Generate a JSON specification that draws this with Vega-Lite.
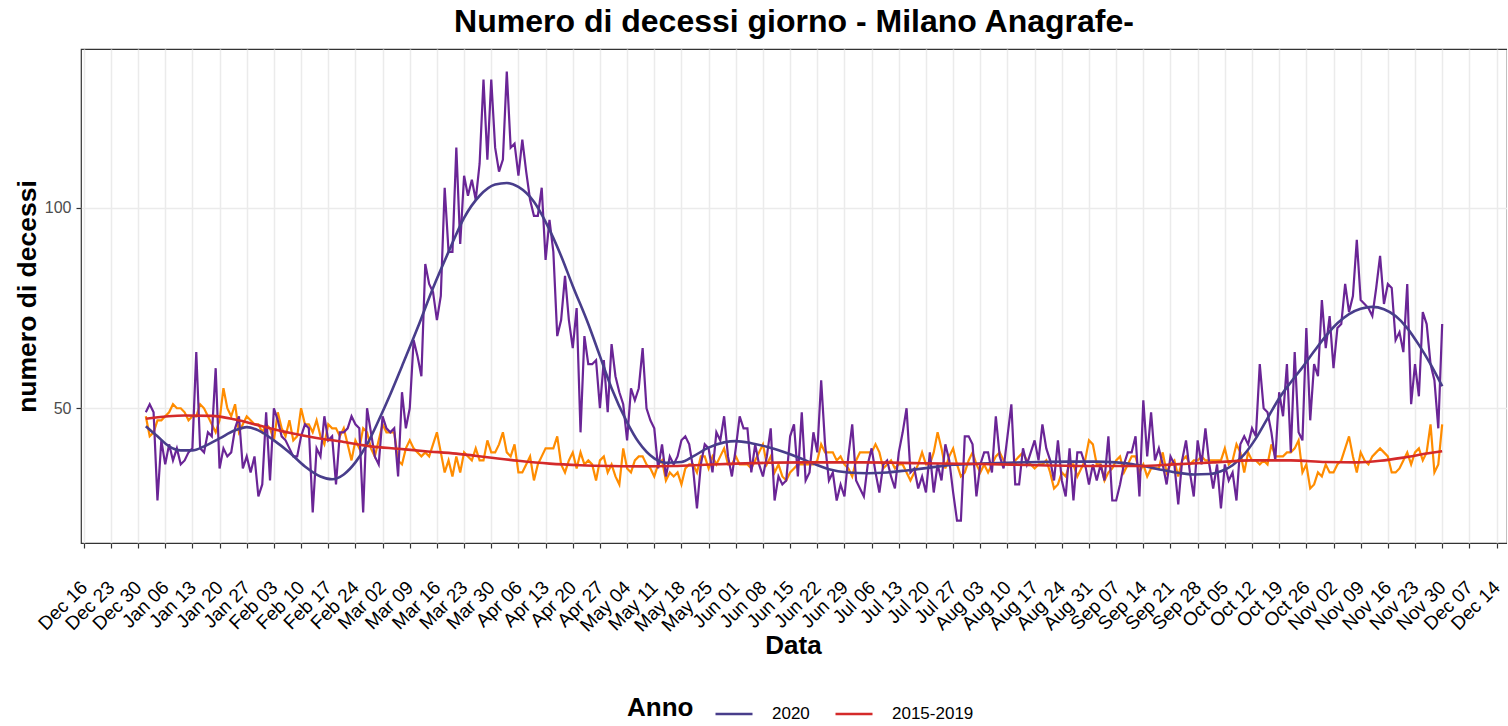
{
"$schema": "https://vega.github.io/schema/vega-lite/v6.json",
"autosize": {"type": "none"},
"padding": {"left": 81, "top": 49, "right": 0, "bottom": 183},
"width": 1426,
"height": 494,
"background": "white",
"config": {"font": "Liberation Sans", "view": {"stroke": "#333333", "strokeWidth": 1.2}},
"title": {"text": "Numero di decessi giorno - Milano Anagrafe-", "fontSize": 32, "fontWeight": "bold", "font": "Liberation Sans", "color": "black", "anchor": "middle", "offset": 14, "baseline": "alphabetic", "dy": 29},
"datasets": {
"daily": [
{"date":"2020-01-01","v2020":49,"v1519":48},{"date":"2020-01-02","v2020":51,"v1519":43},{"date":"2020-01-03","v2020":49,"v1519":44},{"date":"2020-01-04","v2020":27,"v1519":47},{"date":"2020-01-05","v2020":42,"v1519":47},{"date":"2020-01-06","v2020":36,"v1519":48},{"date":"2020-01-07","v2020":41,"v1519":49},{"date":"2020-01-08","v2020":37,"v1519":51},{"date":"2020-01-09","v2020":40,"v1519":50},{"date":"2020-01-10","v2020":36,"v1519":50},
{"date":"2020-01-11","v2020":37,"v1519":49},{"date":"2020-01-12","v2020":39,"v1519":47},{"date":"2020-01-13","v2020":40,"v1519":48},{"date":"2020-01-14","v2020":64,"v1519":48},{"date":"2020-01-15","v2020":40,"v1519":51},{"date":"2020-01-16","v2020":39,"v1519":50},{"date":"2020-01-17","v2020":44,"v1519":48},{"date":"2020-01-18","v2020":43,"v1519":46},{"date":"2020-01-19","v2020":60,"v1519":44},{"date":"2020-01-20","v2020":35,"v1519":47},
{"date":"2020-01-21","v2020":40,"v1519":55},{"date":"2020-01-22","v2020":38,"v1519":50},{"date":"2020-01-23","v2020":39,"v1519":48},{"date":"2020-01-24","v2020":45,"v1519":51},{"date":"2020-01-25","v2020":48,"v1519":44},{"date":"2020-01-26","v2020":35,"v1519":46},{"date":"2020-01-27","v2020":38,"v1519":48},{"date":"2020-01-28","v2020":34,"v1519":47},{"date":"2020-01-29","v2020":38,"v1519":46},{"date":"2020-01-30","v2020":28,"v1519":46},
{"date":"2020-01-31","v2020":31,"v1519":44},{"date":"2020-02-01","v2020":49,"v1519":46},{"date":"2020-02-02","v2020":32,"v1519":45},{"date":"2020-02-03","v2020":50,"v1519":42},{"date":"2020-02-04","v2020":47,"v1519":49},{"date":"2020-02-05","v2020":43,"v1519":45},{"date":"2020-02-06","v2020":42,"v1519":43},{"date":"2020-02-07","v2020":40,"v1519":47},{"date":"2020-02-08","v2020":38,"v1519":42},{"date":"2020-02-09","v2020":38,"v1519":43},
{"date":"2020-02-10","v2020":43,"v1519":50},{"date":"2020-02-11","v2020":46,"v1519":46},{"date":"2020-02-12","v2020":45,"v1519":46},{"date":"2020-02-13","v2020":24,"v1519":44},{"date":"2020-02-14","v2020":40,"v1519":47},{"date":"2020-02-15","v2020":38,"v1519":43},{"date":"2020-02-16","v2020":48,"v1519":41},{"date":"2020-02-17","v2020":42,"v1519":46},{"date":"2020-02-18","v2020":43,"v1519":45},{"date":"2020-02-19","v2020":31,"v1519":45},
{"date":"2020-02-20","v2020":44,"v1519":43},{"date":"2020-02-21","v2020":44,"v1519":45},{"date":"2020-02-22","v2020":45,"v1519":41},{"date":"2020-02-23","v2020":48,"v1519":37},{"date":"2020-02-24","v2020":46,"v1519":42},{"date":"2020-02-25","v2020":45,"v1519":40},{"date":"2020-02-26","v2020":24,"v1519":45},{"date":"2020-02-27","v2020":50,"v1519":44},{"date":"2020-02-28","v2020":44,"v1519":40},{"date":"2020-02-29","v2020":38,"v1519":38},
{"date":"2020-03-01","v2020":36,"v1519":42},{"date":"2020-03-02","v2020":48,"v1519":46},{"date":"2020-03-03","v2020":45,"v1519":44},{"date":"2020-03-04","v2020":44,"v1519":44},{"date":"2020-03-05","v2020":45,"v1519":44},{"date":"2020-03-06","v2020":33,"v1519":37},{"date":"2020-03-07","v2020":54,"v1519":36},{"date":"2020-03-08","v2020":45,"v1519":40},{"date":"2020-03-09","v2020":50,"v1519":42},{"date":"2020-03-10","v2020":67,"v1519":40},
{"date":"2020-03-11","v2020":63,"v1519":39},{"date":"2020-03-12","v2020":58,"v1519":38},{"date":"2020-03-13","v2020":86,"v1519":39},{"date":"2020-03-14","v2020":81,"v1519":38},{"date":"2020-03-15","v2020":79,"v1519":41},{"date":"2020-03-16","v2020":72,"v1519":44},{"date":"2020-03-17","v2020":78,"v1519":39},{"date":"2020-03-18","v2020":105,"v1519":34},{"date":"2020-03-19","v2020":89,"v1519":37},{"date":"2020-03-20","v2020":89,"v1519":33},
{"date":"2020-03-21","v2020":115,"v1519":38},{"date":"2020-03-22","v2020":91,"v1519":34},{"date":"2020-03-23","v2020":108,"v1519":39},{"date":"2020-03-24","v2020":103,"v1519":38},{"date":"2020-03-25","v2020":107,"v1519":37},{"date":"2020-03-26","v2020":102,"v1519":40},{"date":"2020-03-27","v2020":111,"v1519":37},{"date":"2020-03-28","v2020":132,"v1519":37},{"date":"2020-03-29","v2020":112,"v1519":42},{"date":"2020-03-30","v2020":132,"v1519":39},
{"date":"2020-03-31","v2020":115,"v1519":39},{"date":"2020-04-01","v2020":109,"v1519":41},{"date":"2020-04-02","v2020":112,"v1519":44},{"date":"2020-04-03","v2020":134,"v1519":39},{"date":"2020-04-04","v2020":115,"v1519":38},{"date":"2020-04-05","v2020":116,"v1519":41},{"date":"2020-04-06","v2020":108,"v1519":34},{"date":"2020-04-07","v2020":117,"v1519":34},{"date":"2020-04-08","v2020":109,"v1519":36},{"date":"2020-04-09","v2020":102,"v1519":38},
{"date":"2020-04-10","v2020":98,"v1519":32},{"date":"2020-04-11","v2020":98,"v1519":36},{"date":"2020-04-12","v2020":105,"v1519":38},{"date":"2020-04-13","v2020":87,"v1519":40},{"date":"2020-04-14","v2020":97,"v1519":40},{"date":"2020-04-15","v2020":89,"v1519":40},{"date":"2020-04-16","v2020":68,"v1519":43},{"date":"2020-04-17","v2020":72,"v1519":36},{"date":"2020-04-18","v2020":83,"v1519":34},{"date":"2020-04-19","v2020":72,"v1519":37},
{"date":"2020-04-20","v2020":65,"v1519":39},{"date":"2020-04-21","v2020":75,"v1519":35},{"date":"2020-04-22","v2020":44,"v1519":39},{"date":"2020-04-23","v2020":68,"v1519":36},{"date":"2020-04-24","v2020":61,"v1519":37},{"date":"2020-04-25","v2020":61,"v1519":36},{"date":"2020-04-26","v2020":62,"v1519":32},{"date":"2020-04-27","v2020":50,"v1519":37},{"date":"2020-04-28","v2020":62,"v1519":38},{"date":"2020-04-29","v2020":49,"v1519":34},
{"date":"2020-04-30","v2020":66,"v1519":36},{"date":"2020-05-01","v2020":58,"v1519":33},{"date":"2020-05-02","v2020":54,"v1519":31},{"date":"2020-05-03","v2020":51,"v1519":40},{"date":"2020-05-04","v2020":42,"v1519":35},{"date":"2020-05-05","v2020":55,"v1519":34},{"date":"2020-05-06","v2020":52,"v1519":37},{"date":"2020-05-07","v2020":55,"v1519":38},{"date":"2020-05-08","v2020":65,"v1519":38},{"date":"2020-05-09","v2020":50,"v1519":36},
{"date":"2020-05-10","v2020":47,"v1519":35},{"date":"2020-05-11","v2020":45,"v1519":33},{"date":"2020-05-12","v2020":35,"v1519":36},{"date":"2020-05-13","v2020":41,"v1519":37},{"date":"2020-05-14","v2020":33,"v1519":32},{"date":"2020-05-15","v2020":38,"v1519":34},{"date":"2020-05-16","v2020":36,"v1519":33},{"date":"2020-05-17","v2020":38,"v1519":34},{"date":"2020-05-18","v2020":42,"v1519":31},{"date":"2020-05-19","v2020":43,"v1519":35},
{"date":"2020-05-20","v2020":41,"v1519":36},{"date":"2020-05-21","v2020":35,"v1519":36},{"date":"2020-05-22","v2020":25,"v1519":34},{"date":"2020-05-23","v2020":36,"v1519":38},{"date":"2020-05-24","v2020":41,"v1519":38},{"date":"2020-05-25","v2020":40,"v1519":35},{"date":"2020-05-26","v2020":34,"v1519":38},{"date":"2020-05-27","v2020":44,"v1519":36},{"date":"2020-05-28","v2020":42,"v1519":38},{"date":"2020-05-29","v2020":48,"v1519":40},
{"date":"2020-05-30","v2020":38,"v1519":36},{"date":"2020-05-31","v2020":33,"v1519":36},{"date":"2020-06-01","v2020":40,"v1519":38},{"date":"2020-06-02","v2020":48,"v1519":36},{"date":"2020-06-03","v2020":45,"v1519":36},{"date":"2020-06-04","v2020":45,"v1519":36},{"date":"2020-06-05","v2020":34,"v1519":35},{"date":"2020-06-06","v2020":41,"v1519":37},{"date":"2020-06-07","v2020":36,"v1519":39},{"date":"2020-06-08","v2020":33,"v1519":41},
{"date":"2020-06-09","v2020":38,"v1519":36},{"date":"2020-06-10","v2020":45,"v1519":38},{"date":"2020-06-11","v2020":27,"v1519":34},{"date":"2020-06-12","v2020":33,"v1519":36},{"date":"2020-06-13","v2020":31,"v1519":33},{"date":"2020-06-14","v2020":32,"v1519":32},{"date":"2020-06-15","v2020":43,"v1519":34},{"date":"2020-06-16","v2020":46,"v1519":35},{"date":"2020-06-17","v2020":33,"v1519":36},{"date":"2020-06-18","v2020":49,"v1519":36},
{"date":"2020-06-19","v2020":32,"v1519":36},{"date":"2020-06-20","v2020":34,"v1519":36},{"date":"2020-06-21","v2020":44,"v1519":36},{"date":"2020-06-22","v2020":39,"v1519":37},{"date":"2020-06-23","v2020":57,"v1519":41},{"date":"2020-06-24","v2020":41,"v1519":39},{"date":"2020-06-25","v2020":32,"v1519":39},{"date":"2020-06-26","v2020":34,"v1519":39},{"date":"2020-06-27","v2020":27,"v1519":37},{"date":"2020-06-28","v2020":31,"v1519":38},
{"date":"2020-06-29","v2020":28,"v1519":36},{"date":"2020-06-30","v2020":38,"v1519":35},{"date":"2020-07-01","v2020":46,"v1519":33},{"date":"2020-07-02","v2020":32,"v1519":37},{"date":"2020-07-03","v2020":30,"v1519":39},{"date":"2020-07-04","v2020":28,"v1519":39},{"date":"2020-07-05","v2020":36,"v1519":39},{"date":"2020-07-06","v2020":40,"v1519":39},{"date":"2020-07-07","v2020":34,"v1519":41},{"date":"2020-07-08","v2020":29,"v1519":39},
{"date":"2020-07-09","v2020":36,"v1519":35},{"date":"2020-07-10","v2020":37,"v1519":36},{"date":"2020-07-11","v2020":33,"v1519":37},{"date":"2020-07-12","v2020":30,"v1519":35},{"date":"2020-07-13","v2020":39,"v1519":36},{"date":"2020-07-14","v2020":44,"v1519":36},{"date":"2020-07-15","v2020":50,"v1519":34},{"date":"2020-07-16","v2020":34,"v1519":32},{"date":"2020-07-17","v2020":35,"v1519":34},{"date":"2020-07-18","v2020":30,"v1519":36},
{"date":"2020-07-19","v2020":33,"v1519":39},{"date":"2020-07-20","v2020":29,"v1519":36},{"date":"2020-07-21","v2020":39,"v1519":36},{"date":"2020-07-22","v2020":29,"v1519":39},{"date":"2020-07-23","v2020":36,"v1519":44},{"date":"2020-07-24","v2020":32,"v1519":40},{"date":"2020-07-25","v2020":41,"v1519":35},{"date":"2020-07-26","v2020":37,"v1519":38},{"date":"2020-07-27","v2020":29,"v1519":40},{"date":"2020-07-28","v2020":22,"v1519":36},
{"date":"2020-07-29","v2020":22,"v1519":33},{"date":"2020-07-30","v2020":43,"v1519":34},{"date":"2020-07-31","v2020":43,"v1519":37},{"date":"2020-08-01","v2020":41,"v1519":39},{"date":"2020-08-02","v2020":28,"v1519":36},{"date":"2020-08-03","v2020":36,"v1519":34},{"date":"2020-08-04","v2020":39,"v1519":36},{"date":"2020-08-05","v2020":39,"v1519":34},{"date":"2020-08-06","v2020":34,"v1519":36},{"date":"2020-08-07","v2020":48,"v1519":38},
{"date":"2020-08-08","v2020":38,"v1519":39},{"date":"2020-08-09","v2020":35,"v1519":37},{"date":"2020-08-10","v2020":43,"v1519":36},{"date":"2020-08-11","v2020":51,"v1519":36},{"date":"2020-08-12","v2020":31,"v1519":37},{"date":"2020-08-13","v2020":31,"v1519":38},{"date":"2020-08-14","v2020":40,"v1519":39},{"date":"2020-08-15","v2020":36,"v1519":37},{"date":"2020-08-16","v2020":39,"v1519":36},{"date":"2020-08-17","v2020":42,"v1519":35},
{"date":"2020-08-18","v2020":37,"v1519":36},{"date":"2020-08-19","v2020":46,"v1519":36},{"date":"2020-08-20","v2020":40,"v1519":37},{"date":"2020-08-21","v2020":37,"v1519":34},{"date":"2020-08-22","v2020":32,"v1519":30},{"date":"2020-08-23","v2020":42,"v1519":31},{"date":"2020-08-24","v2020":32,"v1519":34},{"date":"2020-08-25","v2020":28,"v1519":33},{"date":"2020-08-26","v2020":40,"v1519":36},{"date":"2020-08-27","v2020":27,"v1519":36},
{"date":"2020-08-28","v2020":39,"v1519":33},{"date":"2020-08-29","v2020":39,"v1519":35},{"date":"2020-08-30","v2020":36,"v1519":37},{"date":"2020-08-31","v2020":31,"v1519":42},{"date":"2020-09-01","v2020":36,"v1519":41},{"date":"2020-09-02","v2020":32,"v1519":36},{"date":"2020-09-03","v2020":36,"v1519":36},{"date":"2020-09-04","v2020":32,"v1519":32},{"date":"2020-09-05","v2020":43,"v1519":34},{"date":"2020-09-06","v2020":27,"v1519":35},
{"date":"2020-09-07","v2020":27,"v1519":37},{"date":"2020-09-08","v2020":31,"v1519":38},{"date":"2020-09-09","v2020":36,"v1519":34},{"date":"2020-09-10","v2020":39,"v1519":36},{"date":"2020-09-11","v2020":39,"v1519":38},{"date":"2020-09-12","v2020":43,"v1519":38},{"date":"2020-09-13","v2020":28,"v1519":34},{"date":"2020-09-14","v2020":52,"v1519":36},{"date":"2020-09-15","v2020":38,"v1519":33},{"date":"2020-09-16","v2020":49,"v1519":35},
{"date":"2020-09-17","v2020":37,"v1519":35},{"date":"2020-09-18","v2020":40,"v1519":35},{"date":"2020-09-19","v2020":36,"v1519":39},{"date":"2020-09-20","v2020":31,"v1519":34},{"date":"2020-09-21","v2020":38,"v1519":36},{"date":"2020-09-22","v2020":36,"v1519":37},{"date":"2020-09-23","v2020":26,"v1519":33},{"date":"2020-09-24","v2020":37,"v1519":37},{"date":"2020-09-25","v2020":42,"v1519":38},{"date":"2020-09-26","v2020":34,"v1519":36},
{"date":"2020-09-27","v2020":28,"v1519":37},{"date":"2020-09-28","v2020":42,"v1519":37},{"date":"2020-09-29","v2020":36,"v1519":38},{"date":"2020-09-30","v2020":45,"v1519":37},{"date":"2020-10-01","v2020":36,"v1519":37},{"date":"2020-10-02","v2020":30,"v1519":37},{"date":"2020-10-03","v2020":36,"v1519":37},{"date":"2020-10-04","v2020":25,"v1519":37},{"date":"2020-10-05","v2020":36,"v1519":40},{"date":"2020-10-06","v2020":32,"v1519":36},
{"date":"2020-10-07","v2020":34,"v1519":37},{"date":"2020-10-08","v2020":27,"v1519":41},{"date":"2020-10-09","v2020":41,"v1519":39},{"date":"2020-10-10","v2020":43,"v1519":34},{"date":"2020-10-11","v2020":41,"v1519":39},{"date":"2020-10-12","v2020":45,"v1519":37},{"date":"2020-10-13","v2020":43,"v1519":37},{"date":"2020-10-14","v2020":61,"v1519":36},{"date":"2020-10-15","v2020":50,"v1519":37},{"date":"2020-10-16","v2020":49,"v1519":36},
{"date":"2020-10-17","v2020":44,"v1519":41},{"date":"2020-10-18","v2020":37,"v1519":38},{"date":"2020-10-19","v2020":54,"v1519":38},{"date":"2020-10-20","v2020":48,"v1519":38},{"date":"2020-10-21","v2020":61,"v1519":39},{"date":"2020-10-22","v2020":39,"v1519":39},{"date":"2020-10-23","v2020":64,"v1519":40},{"date":"2020-10-24","v2020":44,"v1519":42},{"date":"2020-10-25","v2020":42,"v1519":34},{"date":"2020-10-26","v2020":70,"v1519":36},
{"date":"2020-10-27","v2020":47,"v1519":30},{"date":"2020-10-28","v2020":61,"v1519":31},{"date":"2020-10-29","v2020":58,"v1519":34},{"date":"2020-10-30","v2020":77,"v1519":33},{"date":"2020-10-31","v2020":65,"v1519":36},{"date":"2020-11-01","v2020":73,"v1519":34},{"date":"2020-11-02","v2020":60,"v1519":34},{"date":"2020-11-03","v2020":70,"v1519":36},{"date":"2020-11-04","v2020":71,"v1519":37},{"date":"2020-11-05","v2020":81,"v1519":40},
{"date":"2020-11-06","v2020":74,"v1519":43},{"date":"2020-11-07","v2020":78,"v1519":38},{"date":"2020-11-08","v2020":92,"v1519":34},{"date":"2020-11-09","v2020":77,"v1519":39},{"date":"2020-11-10","v2020":76,"v1519":37},{"date":"2020-11-11","v2020":75,"v1519":36},{"date":"2020-11-12","v2020":73,"v1519":38},{"date":"2020-11-13","v2020":80,"v1519":39},{"date":"2020-11-14","v2020":88,"v1519":40},{"date":"2020-11-15","v2020":76,"v1519":39},
{"date":"2020-11-16","v2020":81,"v1519":38},{"date":"2020-11-17","v2020":80,"v1519":34},{"date":"2020-11-18","v2020":67,"v1519":34},{"date":"2020-11-19","v2020":69,"v1519":35},{"date":"2020-11-20","v2020":64,"v1519":37},{"date":"2020-11-21","v2020":81,"v1519":39},{"date":"2020-11-22","v2020":51,"v1519":36},{"date":"2020-11-23","v2020":61,"v1519":39},{"date":"2020-11-24","v2020":53,"v1519":40},{"date":"2020-11-25","v2020":74,"v1519":37},
{"date":"2020-11-26","v2020":71,"v1519":39},{"date":"2020-11-27","v2020":61,"v1519":46},{"date":"2020-11-28","v2020":57,"v1519":34},{"date":"2020-11-29","v2020":45,"v1519":36},{"date":"2020-11-30","v2020":71,"v1519":46}
],
"smooth": [
{"date":"2020-01-01","serie":"2020","n":45.5},{"date":"2020-01-04","serie":"2020","n":43},{"date":"2020-01-07","serie":"2020","n":40.5},{"date":"2020-01-10","serie":"2020","n":39.5},{"date":"2020-01-13","serie":"2020","n":39.5},{"date":"2020-01-16","serie":"2020","n":40.5},{"date":"2020-01-20","serie":"2020","n":42.5},{"date":"2020-01-24","serie":"2020","n":44.5},{"date":"2020-01-27","serie":"2020","n":45.3},{"date":"2020-01-30","serie":"2020","n":44.5},
{"date":"2020-02-03","serie":"2020","n":42},{"date":"2020-02-07","serie":"2020","n":39},{"date":"2020-02-11","serie":"2020","n":35.5},{"date":"2020-02-15","serie":"2020","n":33},{"date":"2020-02-18","serie":"2020","n":32.3},{"date":"2020-02-21","serie":"2020","n":33.5},{"date":"2020-02-24","serie":"2020","n":36.5},{"date":"2020-02-27","serie":"2020","n":41},{"date":"2020-03-01","serie":"2020","n":47},{"date":"2020-03-04","serie":"2020","n":53.5},
{"date":"2020-03-07","serie":"2020","n":60.5},{"date":"2020-03-11","serie":"2020","n":70},{"date":"2020-03-15","serie":"2020","n":80},{"date":"2020-03-19","serie":"2020","n":89},{"date":"2020-03-23","serie":"2020","n":97.5},{"date":"2020-03-27","serie":"2020","n":103},{"date":"2020-03-31","serie":"2020","n":105.8},{"date":"2020-04-03","serie":"2020","n":106.2},{"date":"2020-04-06","serie":"2020","n":105.2},{"date":"2020-04-10","serie":"2020","n":101.5},
{"date":"2020-04-13","serie":"2020","n":96.5},{"date":"2020-04-17","serie":"2020","n":88},{"date":"2020-04-20","serie":"2020","n":80.5},{"date":"2020-04-24","serie":"2020","n":71},{"date":"2020-04-27","serie":"2020","n":63},{"date":"2020-04-30","serie":"2020","n":55},{"date":"2020-05-04","serie":"2020","n":46.5},{"date":"2020-05-07","serie":"2020","n":41.5},{"date":"2020-05-11","serie":"2020","n":37.5},{"date":"2020-05-14","serie":"2020","n":36.4},
{"date":"2020-05-18","serie":"2020","n":36.6},{"date":"2020-05-21","serie":"2020","n":38},{"date":"2020-05-25","serie":"2020","n":40.2},{"date":"2020-05-29","serie":"2020","n":41.5},{"date":"2020-06-01","serie":"2020","n":41.8},{"date":"2020-06-05","serie":"2020","n":41.3},{"date":"2020-06-09","serie":"2020","n":40.4},{"date":"2020-06-13","serie":"2020","n":39.2},{"date":"2020-06-17","serie":"2020","n":37.8},{"date":"2020-06-21","serie":"2020","n":36.2},
{"date":"2020-06-25","serie":"2020","n":34.8},{"date":"2020-06-30","serie":"2020","n":34},{"date":"2020-07-05","serie":"2020","n":33.8},{"date":"2020-07-10","serie":"2020","n":34},{"date":"2020-07-15","serie":"2020","n":34.5},{"date":"2020-07-21","serie":"2020","n":35.2},{"date":"2020-07-27","serie":"2020","n":35.9},{"date":"2020-08-03","serie":"2020","n":36.2},{"date":"2020-08-10","serie":"2020","n":36.4},{"date":"2020-08-18","serie":"2020","n":36.6},
{"date":"2020-08-26","serie":"2020","n":36.7},{"date":"2020-09-02","serie":"2020","n":36.7},{"date":"2020-09-07","serie":"2020","n":36.5},{"date":"2020-09-11","serie":"2020","n":36.1},{"date":"2020-09-15","serie":"2020","n":35.4},{"date":"2020-09-19","serie":"2020","n":34.6},{"date":"2020-09-23","serie":"2020","n":33.9},{"date":"2020-09-27","serie":"2020","n":33.5},{"date":"2020-10-01","serie":"2020","n":33.6},{"date":"2020-10-04","serie":"2020","n":34.3},
{"date":"2020-10-07","serie":"2020","n":35.8},{"date":"2020-10-10","serie":"2020","n":38.5},{"date":"2020-10-13","serie":"2020","n":42.5},{"date":"2020-10-16","serie":"2020","n":47.5},{"date":"2020-10-19","serie":"2020","n":52.5},{"date":"2020-10-22","serie":"2020","n":56.5},{"date":"2020-10-25","serie":"2020","n":60.2},{"date":"2020-10-28","serie":"2020","n":64.2},{"date":"2020-10-31","serie":"2020","n":68},{"date":"2020-11-03","serie":"2020","n":71.2},
{"date":"2020-11-06","serie":"2020","n":73.5},{"date":"2020-11-09","serie":"2020","n":74.8},{"date":"2020-11-12","serie":"2020","n":75.3},{"date":"2020-11-15","serie":"2020","n":74.7},{"date":"2020-11-18","serie":"2020","n":73},{"date":"2020-11-21","serie":"2020","n":70},{"date":"2020-11-24","serie":"2020","n":65.8},{"date":"2020-11-27","serie":"2020","n":61},{"date":"2020-11-30","serie":"2020","n":55.5},
{"date":"2020-01-01","serie":"2015-2019","n":47.4},{"date":"2020-01-11","serie":"2015-2019","n":48.2},{"date":"2020-01-18","serie":"2015-2019","n":48.1},{"date":"2020-01-24","serie":"2015-2019","n":47.2},{"date":"2020-01-31","serie":"2015-2019","n":45.5},{"date":"2020-02-07","serie":"2015-2019","n":43.9},{"date":"2020-02-14","serie":"2015-2019","n":42.6},{"date":"2020-02-21","serie":"2015-2019","n":41.6},{"date":"2020-02-28","serie":"2015-2019","n":40.5},{"date":"2020-03-06","serie":"2015-2019","n":39.9},
{"date":"2020-03-13","serie":"2015-2019","n":39.3},{"date":"2020-03-21","serie":"2015-2019","n":38.7},{"date":"2020-03-29","serie":"2015-2019","n":37.8},{"date":"2020-04-06","serie":"2015-2019","n":36.9},{"date":"2020-04-14","serie":"2015-2019","n":36.2},{"date":"2020-04-22","serie":"2015-2019","n":35.8},{"date":"2020-04-30","serie":"2015-2019","n":35.6},{"date":"2020-05-08","serie":"2015-2019","n":35.5},{"date":"2020-05-16","serie":"2015-2019","n":35.6},{"date":"2020-05-24","serie":"2015-2019","n":35.9},
{"date":"2020-06-01","serie":"2015-2019","n":36.2},{"date":"2020-06-09","serie":"2015-2019","n":36.4},{"date":"2020-06-19","serie":"2015-2019","n":36.5},{"date":"2020-07-04","serie":"2015-2019","n":36.5},{"date":"2020-07-19","serie":"2015-2019","n":36.3},{"date":"2020-08-03","serie":"2015-2019","n":36.1},{"date":"2020-08-18","serie":"2015-2019","n":35.8},{"date":"2020-09-02","serie":"2015-2019","n":35.6},{"date":"2020-09-13","serie":"2015-2019","n":35.6},{"date":"2020-09-22","serie":"2015-2019","n":36},
{"date":"2020-10-02","serie":"2015-2019","n":36.5},{"date":"2020-10-12","serie":"2015-2019","n":37},{"date":"2020-10-22","serie":"2015-2019","n":37},{"date":"2020-10-31","serie":"2015-2019","n":36.6},{"date":"2020-11-08","serie":"2015-2019","n":36.5},{"date":"2020-11-14","serie":"2015-2019","n":36.9},{"date":"2020-11-20","serie":"2015-2019","n":37.7},{"date":"2020-11-26","serie":"2015-2019","n":38.7},{"date":"2020-11-30","serie":"2015-2019","n":39.3}
]
},
"encoding": {
"x": {"field": "date", "type": "temporal", "scale": {"type": "utc", "domain": [1576393920000, 1608137280000], "nice": false},
"axis": {"values": [1576454400000,1577059200000,1577664000000,1578268800000,1578873600000,1579478400000,1580083200000,1580688000000,1581292800000,1581897600000,1582502400000,1583107200000,1583712000000,1584316800000,1584921600000,1585526400000,1586131200000,1586736000000,1587340800000,1587945600000,1588550400000,1589155200000,1589760000000,1590364800000,1590969600000,1591574400000,1592179200000,1592784000000,1593388800000,1593993600000,1594598400000,1595203200000,1595808000000,1596412800000,1597017600000,1597622400000,1598227200000,1598832000000,1599436800000,1600041600000,1600646400000,1601251200000,1601856000000,1602460800000,1603065600000,1603670400000,1604275200000,1604880000000,1605484800000,1606089600000,1606694400000,1607299200000,1607904000000],
"format": "%b %d", "labelAngle": -45, "labelAlign": "right", "labelBaseline": "middle", "labelFontSize": 19, "labelColor": "black", "labelPadding": 36, "labelOverlap": false, "labelSeparation": 0, "labelBound": false, "labelFlush": false, "tickSize": 5, "tickColor": "#333333", "tickWidth": 1.2, "domain": false, "grid": true, "gridColor": "#EBEBEB", "gridWidth": 1.5,
"title": "Data", "titleFontSize": 26, "titleFontWeight": "bold", "titleColor": "black", "titleX": 712, "titleY": 110, "titleBaseline": "alphabetic", "titleAlign": "center"}}
},
"layer": [
{
"data": {"name": "daily"},
"mark": {"type": "line", "color": "#FF8C00", "strokeWidth": 2.2},
"encoding": {
"y": {"field": "v1519", "type": "quantitative", "scale": {"domain": [16.4, 139.6], "nice": false, "zero": false},
"axis": {"values": [50, 100], "title": "numero di decessi", "titleFontSize": 26.5, "titleFontWeight": "bold", "titleColor": "black", "titleX": -46, "titleY": 247, "titleAngle": -90, "titleBaseline": "alphabetic", "titleAlign": "center", "labelFontSize": 16, "labelColor": "#4D4D4D", "labelPadding": 5, "tickSize": 5, "tickColor": "#333333", "tickWidth": 1.2, "domain": false, "grid": true, "gridColor": "#EBEBEB", "gridWidth": 1.5}}
}
},
{
"data": {"name": "daily"},
"mark": {"type": "line", "color": "#6A2596", "strokeWidth": 2.2},
"encoding": {
"y": {"field": "v2020", "type": "quantitative", "title": "numero di decessi"}
}
},
{
"data": {"name": "smooth"},
"mark": {"type": "line", "strokeWidth": 2.6, "interpolate": "monotone"},
"encoding": {
"y": {"field": "n", "type": "quantitative", "title": "numero di decessi"},
"color": {"field": "serie", "type": "nominal", "sort": ["2020", "2015-2019"],
"scale": {"domain": ["2020", "2015-2019"], "range": ["#483D8B", "#D42A2A"]},
"legend": {"title": "Anno", "orient": "none", "legendX": 546, "legendY": 645, "direction": "horizontal", "titleOrient": "left", "titleFontSize": 26, "titleFontWeight": "bold", "titleColor": "black", "titlePadding": 20, "labelFontSize": 17, "labelColor": "black", "labelOffset": 18, "columnPadding": 20, "symbolType": "stroke", "symbolSize": 1369, "symbolStrokeWidth": 2.6}}
}
}
]
}
